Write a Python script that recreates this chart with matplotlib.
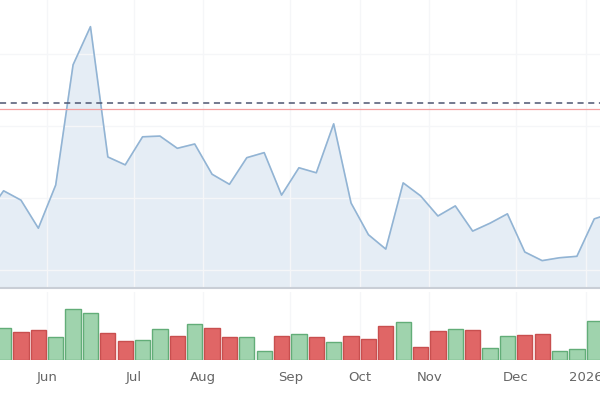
import matplotlib
matplotlib.use("Agg")
import matplotlib.pyplot as plt
import numpy as np

# weekly closes (first value is the week before the visible window)
prices = [17.6, 21.0, 19.7, 15.8, 21.8, 38.5, 43.8, 25.7, 24.6, 28.5, 28.6,
          26.9, 27.5, 23.3, 21.9, 25.6, 26.3, 20.4, 24.2, 23.5, 30.3, 19.3,
          14.9, 12.9, 22.1, 20.3, 17.5, 18.9, 15.4, 16.5, 17.8, 12.5, 11.3,
          11.7, 11.9, 17.1, 17.9]
# weekly volume, millions
volumes = [3.2, 2.8, 3.0, 2.3, 5.1, 4.7, 2.7, 1.9, 2.0, 3.1, 2.4, 3.6,
           3.2, 2.3, 2.3, 0.9, 2.4, 2.6, 2.3, 1.8, 2.4, 2.1, 3.4, 3.8,
           1.3, 2.9, 3.1, 3.0, 1.2, 2.4, 2.5, 2.6, 0.9, 1.1, 3.9]
month_labels = ["Jun", "Jul", "Aug", "Sep", "Oct", "Nov", "Dec", "2026"]
month_start_week = [3, 8, 12, 17, 21, 25, 30, 34]

level_dashed = 33.2
level_red = 32.4

x_line = np.arange(-1, len(prices) - 1)
x_bar = np.arange(len(volumes))
changes = np.diff(prices)[:len(volumes)]
bar_fc = ['#9fd3ad' if c >= 0 else '#e06666' for c in changes]
bar_ec = ['#62ad78' if c >= 0 else '#c84f4f' for c in changes]

xlim = (-0.207, 34.33)
grid_c = '#f5f6f8'

fig = plt.figure(figsize=(6, 4), dpi=100)
ax = fig.add_axes([0, 0.28, 1, 0.72])
axv = fig.add_axes([0, 0.10, 1, 0.17])

ax.fill_between(x_line, prices, 7.5, color='#e5edf5', zorder=1)
ax.plot(x_line, prices, color='#92b4d4', lw=1.2, zorder=3)
ax.axhline(level_dashed, color='#4d5570', lw=1.1, ls=(0, (4, 3)), zorder=4)
ax.axhline(level_red, color='#f4a0a0', lw=0.9, zorder=4)
ax.set_xlim(*xlim)
ax.set_ylim(7.5, 47.5)
ax.set_yticks([10, 20, 30, 40])
ax.set_xticks(np.array(month_start_week) - 0.5)
ax.grid(True, color=grid_c, lw=1, zorder=0)
ax.tick_params(length=0, labelbottom=False, labelleft=False)
for s in ['top', 'left', 'right']:
    ax.spines[s].set_visible(False)
ax.spines['bottom'].set_color('#c9ced6')
ax.spines['bottom'].set_linewidth(1.5)

axv.bar(x_bar, volumes, width=0.88, color=bar_fc, edgecolor=bar_ec,
        linewidth=1, zorder=3)
axv.set_xlim(*xlim)
axv.set_ylim(0, 6.8)
axv.set_yticks([])
axv.set_xticks(np.array(month_start_week) - 0.5)
axv.set_xticklabels(month_labels, fontsize=9.5, color='#666666')
axv.grid(True, axis='x', color=grid_c, lw=1, zorder=0)
axv.tick_params(length=0, pad=8)
for s in axv.spines.values():
    s.set_visible(False)

fig.savefig('out.png', dpi=100)
